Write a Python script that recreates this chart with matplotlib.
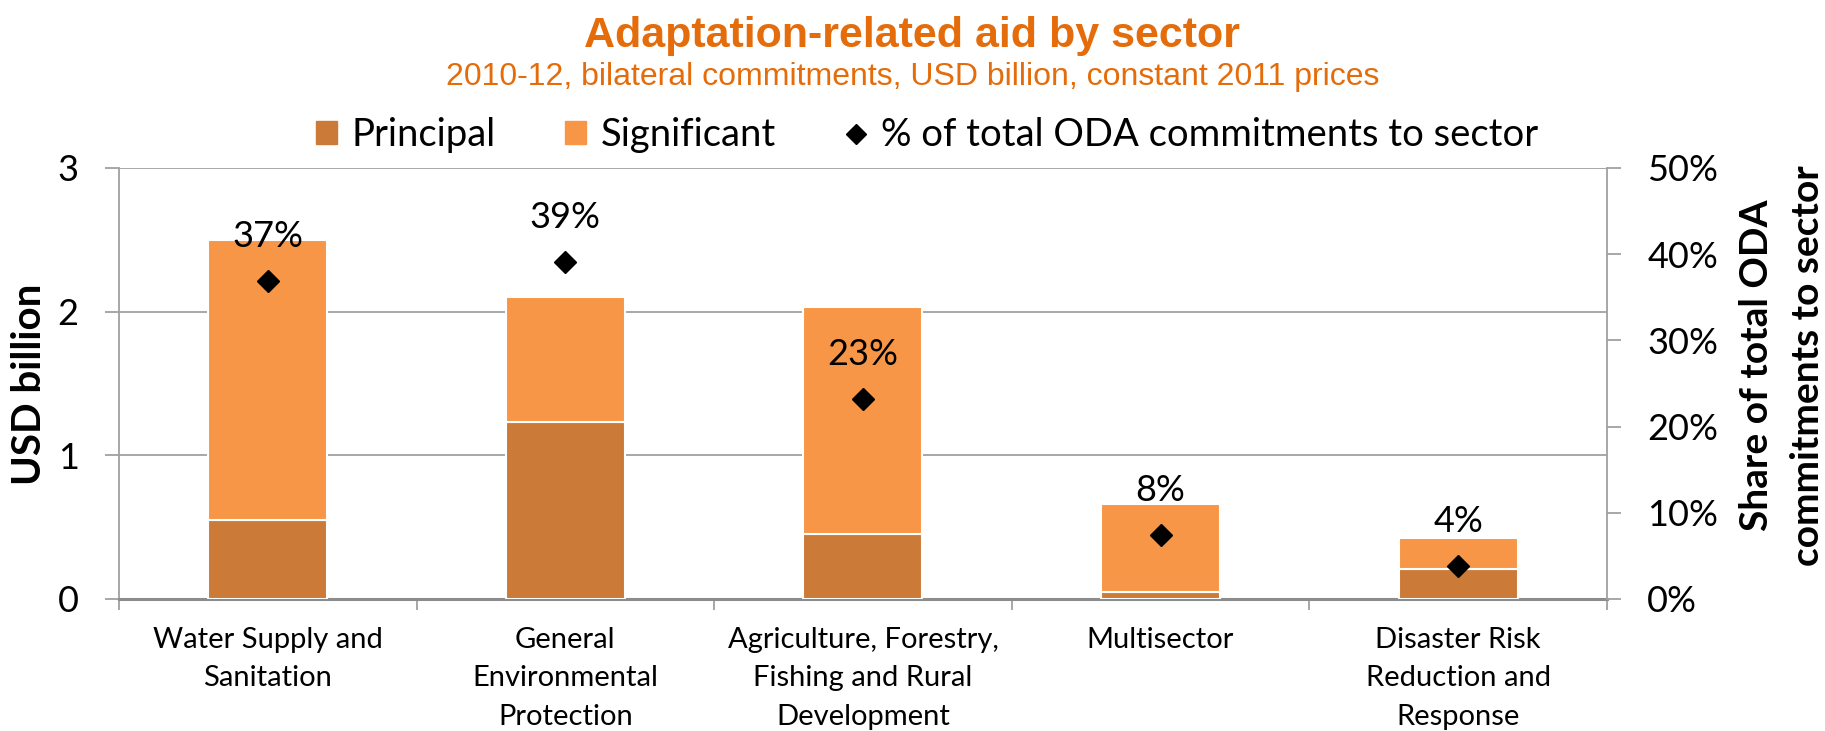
import matplotlib
matplotlib.use("Agg")
import matplotlib.pyplot as plt
from matplotlib.patches import Patch
from matplotlib.lines import Line2D
from matplotlib.ticker import FixedLocator, PercentFormatter

plt.rcParams['font.family'] = ['Lato', 'DejaVu Sans']

sectors = ["Water Supply and\nSanitation",
           "General\nEnvironmental\nProtection",
           "Agriculture, Forestry,\nFishing and Rural\nDevelopment",
           "Multisector",
           "Disaster Risk\nReduction and\nResponse"]
principal = [0.55, 1.235, 0.45, 0.05, 0.21]
significant = [1.95, 0.865, 1.58, 0.61, 0.215]
share_pct = [36.9, 39.1, 23.2, 7.4, 3.8]
share_labels = ["37%", "39%", "23%", "8%", "4%"]

c_principal = "#CC7A38"
c_significant = "#F79646"
c_title = "#E46C0A"
grey = "#A0A0A0"

fig = plt.figure(figsize=(18.25, 7.31), dpi=100)
ax = fig.add_axes([0.0652, 0.1806, 0.8153, 0.5896])
ax2 = ax.twinx()

x = list(range(len(sectors)))
ax.bar(x, principal, width=0.4, color=c_principal, edgecolor="white", linewidth=1.5, zorder=3)
ax.bar(x, significant, width=0.4, bottom=principal, color=c_significant,
       edgecolor="white", linewidth=1.5, zorder=3)

ax.set_xlim(-0.5, len(sectors) - 0.5)
ax.set_ylim(0, 3)
ax.set_yticks([0, 1, 2, 3])
ax.grid(axis="y", color=grey, linewidth=1.3, zorder=0)
ax.set_axisbelow(True)

# category labels at centres, tick marks at the boundaries
ax.set_xticks(x)
ax.set_xticklabels(sectors, fontsize=21, linespacing=1.6)
ax.tick_params(axis="x", which="major", length=0, pad=20)
ax.xaxis.set_minor_locator(FixedLocator([i - 0.5 for i in range(len(sectors) + 1)]))
ax.tick_params(axis="x", which="minor", length=8, width=1.3, color=grey)
ax.tick_params(axis="y", labelsize=26, length=10, width=1.3, color=grey, pad=19)

ax.spines["top"].set_visible(False)
ax2.spines["top"].set_visible(False)
ax.spines["left"].set_color(grey)
ax.spines["left"].set_linewidth(1.3)
ax.spines["bottom"].set_color("#8C8C8C")
ax.spines["bottom"].set_linewidth(2.2)
ax2.spines["right"].set_color(grey)
ax2.spines["right"].set_linewidth(1.3)
ax2.spines["left"].set_visible(False)
ax2.spines["bottom"].set_visible(False)
ax.spines["right"].set_visible(False)

ax2.plot(x, share_pct, linestyle="none", marker="D", markersize=11, color="black", zorder=5)
for xi, yi, lab in zip(x, share_pct, share_labels):
    ax2.annotate(lab, (xi, yi), xytext=(0, 32), textcoords="offset points",
                 ha="center", va="center", fontsize=26)
ax2.set_ylim(0, 50)
ax2.set_yticks([0, 10, 20, 30, 40, 50])
ax2.yaxis.set_major_formatter(PercentFormatter(decimals=0))
ax2.tick_params(axis="y", labelsize=26, length=10, width=1.3, color=grey, pad=19)

fig.text(0.0164, 0.4747, "USD billion", rotation=90, ha="center", va="center",
         fontsize=29, fontweight="bold")
fig.text(0.9765, 0.5, "Share of total ODA\ncommitments to sector", rotation=90,
         ha="center", va="center", fontsize=28, fontweight="bold", linespacing=1.55)

fig.text(0.5, 0.936, "Adaptation-related aid by sector", ha="center", va="baseline",
         fontsize=31, fontweight="bold", color=c_title, family="Liberation Sans")
fig.text(0.5, 0.884, "2010-12, bilateral commitments, USD billion, constant 2011 prices",
         ha="center", va="baseline", fontsize=23, color=c_title, family="Liberation Sans")

handles = [Patch(color=c_principal, label="Principal"),
           Patch(color=c_significant, label="Significant"),
           Line2D([], [], linestyle="none", marker="D", markersize=10, color="black",
                  label="% of total ODA commitments to sector")]
fig.legend(handles=handles, loc="center", bbox_to_anchor=(0.508, 0.815), ncol=3,
           frameon=False, fontsize=27.5, handlelength=0.55, handleheight=0.55,
           handletextpad=0.4, columnspacing=1.8, borderpad=0, borderaxespad=0)

fig.savefig("out.png", dpi=100)
